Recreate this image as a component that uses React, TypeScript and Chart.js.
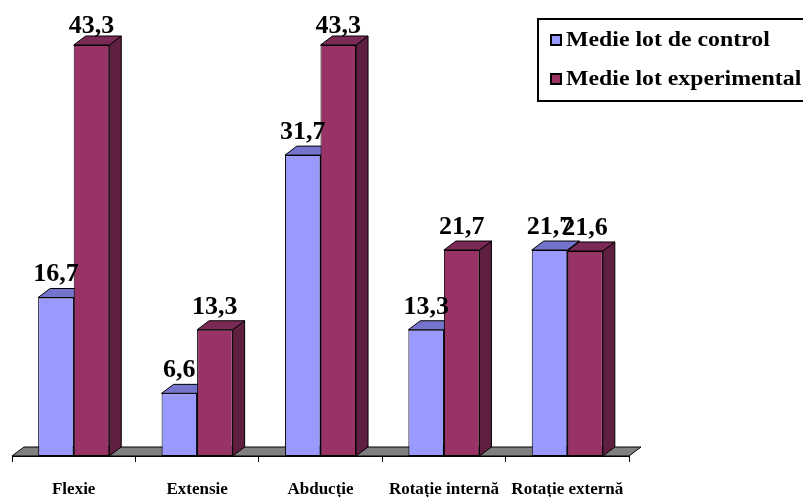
import React, { useEffect, useRef } from "react";
import { Chart, registerables } from "chart.js";

Chart.register(...registerables);

const categories = ["Flexie", "Extensie", "Abducție", "Rotație internă", "Rotație externă"];
const controlValues = [16.7, 6.6, 31.7, 13.3, 21.7];
const experimentalValues = [43.3, 13.3, 43.3, 21.7, 21.6];
const seriesLabels = ["Medie lot de control", "Medie lot experimental"];

const FRONT = ["#9999FF", "#993366"];
const TOP = ["#7474CC", "#7B2A55"];
const SIDE = ["#5C5C99", "#5F1F41"];
const DX = 12;
const DY = 9;
const FONT = "'Liberation Serif', 'Times New Roman', serif";

const fmt = (v: number) => v.toFixed(1).replace(".", ",");

function poly(ctx: CanvasRenderingContext2D, pts: number[][], fill: string) {
  ctx.beginPath();
  ctx.moveTo(pts[0][0], pts[0][1]);
  for (let i = 1; i < pts.length; i++) ctx.lineTo(pts[i][0], pts[i][1]);
  ctx.closePath();
  ctx.fillStyle = fill;
  ctx.fill();
  ctx.strokeStyle = "#000";
  ctx.lineWidth = 1;
  ctx.stroke();
}

const threeD = {
  id: "threeD",
  beforeDatasetsDraw(chart: any) {
    const ctx = chart.ctx as CanvasRenderingContext2D;
    const { left, right, bottom } = chart.chartArea;
    ctx.save();
    poly(ctx, [[left, bottom], [right, bottom], [right + DX, bottom - DY], [left + DX, bottom - DY]], "#808080");
    chart.data.datasets.forEach((_: any, i: number) => {
      const meta = chart.getDatasetMeta(i);
      meta.data.forEach((el: any) => {
        const { x, y, base, width } = el.getProps(["x", "y", "base", "width"], true);
        const l = x - width / 2;
        const r = x + width / 2;
        poly(ctx, [[r, y], [r + DX, y - DY], [r + DX, base - DY], [r, base]], SIDE[i]);
        poly(ctx, [[l, y], [r, y], [r + DX, y - DY], [l + DX, y - DY]], TOP[i]);
      });
    });
    ctx.restore();
  },
  afterDatasetsDraw(chart: any) {
    const ctx = chart.ctx as CanvasRenderingContext2D;
    ctx.save();
    ctx.font = `bold 26px ${FONT}`;
    ctx.fillStyle = "#000";
    ctx.textAlign = "center";
    ctx.textBaseline = "alphabetic";
    chart.data.datasets.forEach((ds: any, i: number) => {
      const meta = chart.getDatasetMeta(i);
      meta.data.forEach((el: any, j: number) => {
        const { x, y } = el.getProps(["x", "y"], true);
        const by = Math.max(y - 16, 33);
        ctx.fillText(fmt(ds.data[j]), x, by);
      });
    });
    ctx.restore();
  },
  afterDraw(chart: any) {
    const ctx = chart.ctx as CanvasRenderingContext2D;
    ctx.save();
    ctx.strokeStyle = "#000";
    ctx.lineWidth = 2;
    ctx.strokeRect(538, 19, 300, 82);
    const ys = [40, 79];
    chart.data.datasets.forEach((ds: any, i: number) => {
      const y = ys[i];
      ctx.fillStyle = FRONT[i];
      ctx.fillRect(551, y - 5, 10, 10);
      ctx.lineWidth = 2;
      ctx.strokeRect(551, y - 5, 10, 10);
      ctx.save();
      ctx.translate(566, y + 1);
      ctx.scale(1.19, 1);
      ctx.font = `bold 20px ${FONT}`;
      ctx.fillStyle = "#000";
      ctx.textBaseline = "middle";
      ctx.textAlign = "left";
      ctx.fillText(ds.label, 0, 0);
      ctx.restore();
    });
    ctx.restore();
  },
};

export default function App() {
  const ref = useRef<HTMLCanvasElement | null>(null);
  useEffect(() => {
    if (!ref.current) return;
    const chart = new Chart(ref.current, {
      type: "bar",
      data: {
        labels: categories,
        datasets: [
          {
            label: seriesLabels[0],
            data: controlValues,
            backgroundColor: FRONT[0],
            borderColor: "#000",
            borderWidth: 1,
            borderSkipped: false,
          },
          {
            label: seriesLabels[1],
            data: experimentalValues,
            backgroundColor: FRONT[1],
            borderColor: "#000",
            borderWidth: 1,
            borderSkipped: false,
          },
        ],
      },
      options: {
        responsive: false,
        animation: false,
        devicePixelRatio: 1,
        layout: { padding: { left: 12, right: 174, top: 8, bottom: 0 } },
        datasets: { bar: { categoryPercentage: 0.576, barPercentage: 1 } },
        plugins: { legend: { display: false }, tooltip: { enabled: false } },
        scales: {
          x: {
            grid: { display: true, drawOnChartArea: false, drawTicks: true, tickLength: 6, color: "#000", offset: true },
            border: { display: true, color: "#000", width: 1 },
            ticks: {
              font: { family: FONT, weight: "bold", size: 17 },
              color: "#000",
              padding: 17,
              maxRotation: 0,
              autoSkip: false,
            },
            afterFit: (s: any) => {
              s.height = 41;
            },
          },
          y: { display: false, min: 0, max: 47.2, grid: { display: false } },
        },
      },
      plugins: [threeD],
    } as any);
    return () => chart.destroy();
  }, []);
  return (
    <canvas
      ref={ref}
      width={803}
      height={497}
      style={{ position: "absolute", left: 0, top: 0, display: "block", background: "#fff" }}
    />
  );
}
